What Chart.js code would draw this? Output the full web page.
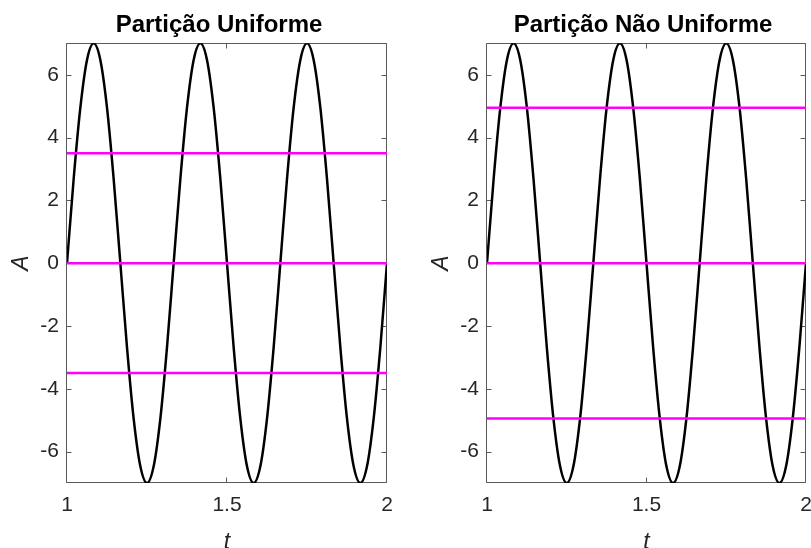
<!DOCTYPE html>
<html>
<head>
<meta charset="utf-8">
<script src="https://cdn.jsdelivr.net/npm/chart.js@4.4.0/dist/chart.umd.min.js"></script>
<style>
  html, body { margin: 0; padding: 0; background: #fff; overflow: hidden; }
  #wrap { position: relative; width: 811px; height: 548px; overflow: hidden; }
  canvas { position: absolute; top: 0; }
  #left { left: 0; }
  #right { left: 420px; }
</style>
</head>
<body>
<div id="wrap">
  <canvas id="left" width="438" height="548"></canvas>
  <canvas id="right" width="446" height="548"></canvas>
</div>
<script>
// signal samples
const t = [
  1, 1.0208, 1.0417, 1.0625, 1.0833, 1.1042, 1.125, 1.1458,
  1.1667, 1.1875, 1.2083, 1.2292, 1.25, 1.2708, 1.2917, 1.3125,
  1.3333, 1.3542, 1.375, 1.3958, 1.4167, 1.4375, 1.4583, 1.4792,
  1.5, 1.5208, 1.5417, 1.5625, 1.5833, 1.6042, 1.625, 1.6458,
  1.6667, 1.6875, 1.7083, 1.7292, 1.75, 1.7708, 1.7917, 1.8125,
  1.8333, 1.8542, 1.875, 1.8958, 1.9167, 1.9375, 1.9583, 1.9792,
  2
];
const A = [
  0, 2.68, 4.95, 6.47, 7, 6.47, 4.95, 2.68,
  0, -2.68, -4.95, -6.47, -7, -6.47, -4.95, -2.68,
  0, 2.68, 4.95, 6.47, 7, 6.47, 4.95, 2.68,
  0, -2.68, -4.95, -6.47, -7, -6.47, -4.95, -2.68,
  0, 2.68, 4.95, 6.47, 7, 6.47, 4.95, 2.68,
  0, -2.68, -4.95, -6.47, -7, -6.47, -4.95, -2.68,
  0
];

// partition levels
const uniformLevels = [3.5, 0, -3.5];
const nonUniformLevels = [4.95, 0, -4.95];

// axes
const xTicks = [1, 1.5, 2];
const xTickLabels = ['1', '1.5', '2'];
const yTicks = [-6, -4, -2, 0, 2, 4, 6];
const yTickLabels = ['-6', '-4', '-2', '0', '2', '4', '6'];

const FONT = '"Liberation Sans", Arial, Helvetica, sans-serif';
const AXIS_COLOR = '#262626';
const BOX_COLOR = '#5a5a5a';

// box around the plot area with inward ticks on all sides
const axesBox = {
  id: 'axesBox',
  beforeDatasetsDraw(chart) {
    const {ctx, chartArea: a, scales: {x, y}} = chart;
    const L = Math.round(a.left) - 0.5, R = Math.round(a.right) - 0.5;
    const T = Math.round(a.top) + 0.5, B = Math.round(a.bottom) - 0.5;
    ctx.save();
    ctx.strokeStyle = BOX_COLOR;
    ctx.lineWidth = 1;
    ctx.beginPath();
    ctx.rect(L, T, R - L, B - T);
    xTicks.forEach(v => {
      const px = Math.round(x.getPixelForValue(v)) - 0.5;
      ctx.moveTo(px, B); ctx.lineTo(px, B - 5);
      ctx.moveTo(px, T); ctx.lineTo(px, T + 5);
    });
    yTicks.forEach(v => {
      const py = Math.round(y.getPixelForValue(v)) + 0.5;
      ctx.moveTo(L, py); ctx.lineTo(L + 5, py);
      ctx.moveTo(R, py); ctx.lineTo(R - 5, py);
    });
    ctx.stroke();
    ctx.restore();
  }
};

// nudge the title sideways from the centre of the plot area
const titleShift = {
  id: 'titleShift',
  afterLayout(chart, args, opts) {
    const b = chart.titleBlock;
    b.left += opts.dx;
    b.right += opts.dx;
  }
};

function makeChart(id, title, levels, padRight, dx) {
  const signal = t.map((v, i) => ({x: v, y: A[i]}));
  const levelSets = levels.map(l => ({
    data: [{x: xTicks[0], y: l}, {x: xTicks[xTicks.length - 1], y: l}],
    borderColor: '#ff00ff',
    borderWidth: 2.5,
    pointRadius: 0
  }));

  return new Chart(document.getElementById(id), {
    type: 'line',
    data: {
      datasets: [
        ...levelSets,
        {
          data: signal,
          borderColor: '#000',
          borderWidth: 2.5,
          pointRadius: 0,
          cubicInterpolationMode: 'monotone'
        }
      ]
    },
    options: {
      responsive: false,
      animation: false,
      layout: {padding: {left: 0, right: padRight, top: 0, bottom: 0}},
      plugins: {
        legend: {display: false},
        tooltip: {enabled: false},
        titleShift: {dx: dx},
        title: {
          display: true,
          fullSize: false,
          text: title,
          color: '#000',
          font: {family: FONT, size: 24, weight: 'bold', lineHeight: 1.2},
          padding: {top: 11, bottom: 3.5}
        }
      },
      scales: {
        x: {
          type: 'linear',
          min: 1,
          max: 2,
          afterBuildTicks: s => { s.ticks = xTicks.map(v => ({value: v})); },
          afterFit: s => { s.height = 65; },
          grid: {display: false, drawTicks: false},
          border: {display: false},
          ticks: {
            color: AXIS_COLOR,
            font: {family: FONT, size: 21},
            padding: 10,
            maxRotation: 0,
            autoSkip: false,
            callback: (v, i) => xTickLabels[i]
          },
          title: {
            display: true,
            text: 't',
            color: AXIS_COLOR,
            font: {family: FONT, size: 23, style: 'italic', lineHeight: 1},
            padding: {top: 0, bottom: -6}
          }
        },
        y: {
          type: 'linear',
          min: -7,
          max: 7,
          afterBuildTicks: s => { s.ticks = yTicks.map(v => ({value: v})); },
          afterFit: s => { s.width = 67; },
          grid: {display: false, drawTicks: false},
          border: {display: false},
          ticks: {
            color: AXIS_COLOR,
            font: {family: FONT, size: 21},
            padding: 8,
            autoSkip: false,
            callback: (v, i) => yTickLabels[i]
          },
          title: {
            display: true,
            text: 'A',
            color: AXIS_COLOR,
            font: {family: FONT, size: 23, style: 'italic', lineHeight: 1},
            padding: {top: 10, bottom: 0}
          }
        }
      }
    },
    plugins: [axesBox, titleShift]
  });
}

makeChart('left', 'Partição Uniforme', uniformLevels, 51, -8);
makeChart('right', 'Partição Não Uniforme', nonUniformLevels, 60, -3.5);
</script>
</body>
</html>
